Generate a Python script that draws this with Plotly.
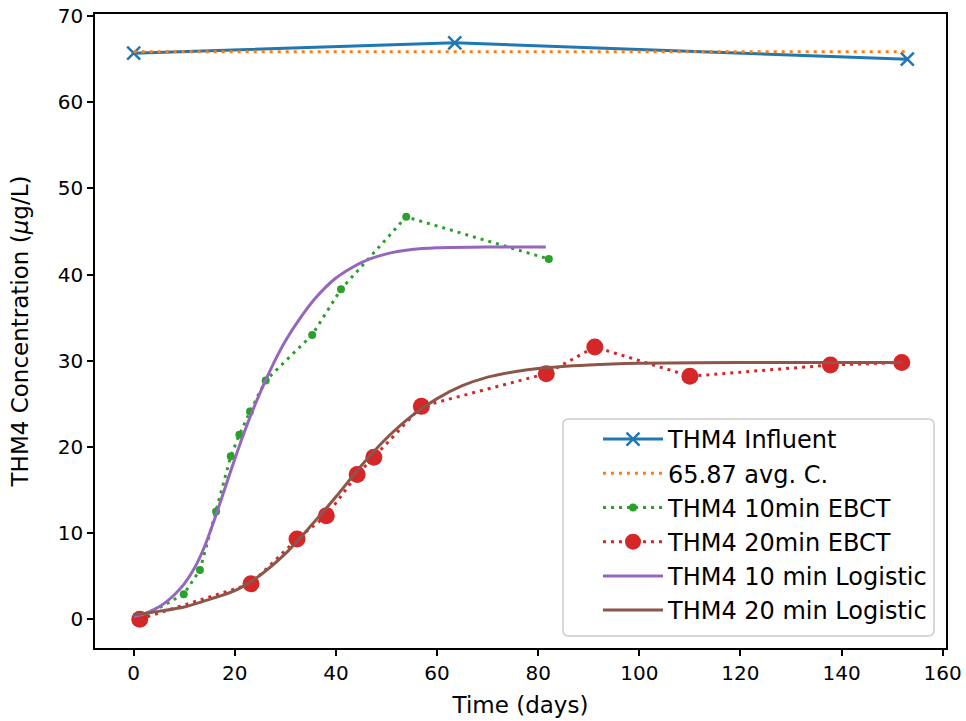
import plotly.graph_objects as go

# ---- data ----
infl_x = [0, 63.5, 153]
infl_y = [65.7, 66.9, 65.0]

avg_x = [0, 153]
avg_y = [65.87, 65.87]

g10_x = [1, 9.9, 13.1, 16.3, 19.2, 20.9, 23.0, 26.1, 35.3, 41.0, 53.9, 82.1]
g10_y = [0.0, 2.9, 5.7, 12.5, 18.9, 21.4, 24.1, 27.7, 33.0, 38.3, 46.7, 41.8]

r20_x = [1.2, 23.2, 32.3, 38.1, 44.2, 47.5, 56.9, 81.6, 91.2, 110.0, 137.8, 151.9]
r20_y = [0.0, 4.1, 9.3, 12.0, 16.8, 18.8, 24.7, 28.5, 31.6, 28.2, 29.5, 29.8]

log10_x = [0, 2, 4, 6, 8, 10, 12, 14, 16, 18, 20, 22, 24, 26, 28, 30, 33, 36, 40, 45, 50, 55, 60, 70, 81.5]
log10_y = [0.3, 0.6, 1.1, 1.8, 2.8, 4.1, 5.9, 8.4, 11.6, 15.1, 18.6, 21.9, 24.9, 27.6, 30.1, 32.3, 35.0, 37.3, 39.6, 41.4, 42.4, 42.9, 43.1, 43.2, 43.2]

log20_x = [0, 5, 10, 15, 20, 25, 30, 35, 40, 45, 50, 55, 60, 65, 70, 75, 80, 90, 100, 120, 152]
log20_y = [0.5, 0.9, 1.4, 2.3, 3.3, 5.1, 7.6, 10.8, 14.2, 17.8, 21.0, 23.6, 25.6, 27.1, 28.1, 28.7, 29.1, 29.5, 29.7, 29.8, 29.8]

C_BLUE, C_ORANGE, C_GREEN, C_RED, C_PURPLE, C_BROWN = (
    "#1f77b4", "#ff7f0e", "#2ca02c", "#d62728", "#9467bd", "#8c564b")
DOT = "3px,5px"
FONT = "DejaVu Sans, sans-serif"

W, H = 966, 721
M_L, M_R, M_T, M_B = 95, 20, 14, 73
PW, PH = W - M_L - M_R, H - M_T - M_B


def px_to_paper(px, py):
    return (px - M_L) / PW, (H - M_B - py) / PH


def rounded_box(x0, y0, x1, y1, r):
    # pixel box -> paper-coordinate SVG path with rounded corners
    rx, ry = r / PW, r / PH
    a0, b1 = px_to_paper(x0, y0)
    a1, b0 = px_to_paper(x1, y1)
    return (f"M{a0+rx},{b1} L{a1-rx},{b1} Q{a1},{b1} {a1},{b1-ry} "
            f"L{a1},{b0+ry} Q{a1},{b0} {a1-rx},{b0} L{a0+rx},{b0} "
            f"Q{a0},{b0} {a0},{b0+ry} L{a0},{b1-ry} Q{a0},{b1} {a0+rx},{b1} Z")


fig = go.Figure()
fig.add_trace(go.Scatter(x=infl_x, y=infl_y, mode="lines+markers", name="THM4 Influent",
                         line=dict(color=C_BLUE, width=3),
                         marker=dict(symbol="x-thin", size=13, line=dict(color=C_BLUE, width=2.5))))
fig.add_trace(go.Scatter(x=avg_x, y=avg_y, mode="lines", name="65.87 avg. C.",
                         line=dict(color=C_ORANGE, width=3, dash=DOT)))
fig.add_trace(go.Scatter(x=g10_x, y=g10_y, mode="lines+markers", name="THM4 10min EBCT",
                         line=dict(color=C_GREEN, width=3, dash=DOT),
                         marker=dict(symbol="circle", size=8, color=C_GREEN)))
fig.add_trace(go.Scatter(x=r20_x, y=r20_y, mode="lines+markers", name="THM4 20min EBCT",
                         line=dict(color=C_RED, width=3, dash=DOT),
                         marker=dict(symbol="circle", size=17, color=C_RED)))
fig.add_trace(go.Scatter(x=log10_x, y=log10_y, mode="lines", name="THM4 10 min Logistic",
                         line=dict(color=C_PURPLE, width=3, shape="spline", smoothing=0.7)))
fig.add_trace(go.Scatter(x=log20_x, y=log20_y, mode="lines", name="THM4 20 min Logistic",
                         line=dict(color=C_BROWN, width=3, shape="spline", smoothing=0.8)))

axis_common = dict(showgrid=False, zeroline=False, showline=True, linecolor="black",
                   linewidth=1.5, mirror=True, ticks="outside", ticklen=6, tickwidth=1.5,
                   tickcolor="black", tickfont=dict(family=FONT, size=20, color="black"),
                   automargin=False)

# legend frame (matplotlib-style rounded box)
fig.add_shape(type="path", xref="paper", yref="paper", layer="above",
              path=rounded_box(563, 419, 934, 636, 6),
              fillcolor="rgba(255,255,255,0.85)", line=dict(color="#cccccc", width=1.5))

lx, ly = px_to_paper(598, 633)
fig.update_layout(
    width=W, height=H,
    margin=dict(l=M_L, r=M_R, t=M_T, b=M_B, autoexpand=False),
    paper_bgcolor="white", plot_bgcolor="white",
    font=dict(family=FONT, color="black"),
    xaxis=dict(range=[-7.65, 160.65], tickmode="array", tickvals=list(range(0, 161, 20)),
               title=dict(text="Time (days)", font=dict(family=FONT, size=23), standoff=13),
               **axis_common),
    yaxis=dict(range=[-3.35, 70.25], tickmode="array", tickvals=list(range(0, 71, 10)),
               title=dict(text="THM4 Concentration (<i>μ</i>g/L)", font=dict(family=FONT, size=23), standoff=23),
               **axis_common),
    legend=dict(x=lx, xanchor="left", y=ly, yanchor="bottom",
                bgcolor="rgba(0,0,0,0)", borderwidth=0,
                itemwidth=60,
                font=dict(family=FONT, size=24, color="black")),
    showlegend=True,
)

fig.write_html("out.html")
